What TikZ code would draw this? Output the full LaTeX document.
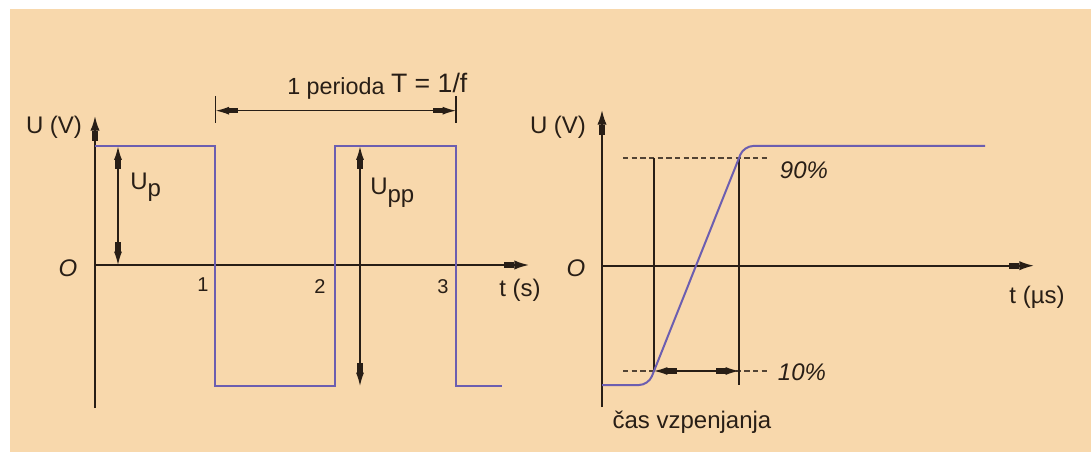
\documentclass[tikz,border=0pt]{standalone}
\usepackage{fontspec}
\setmainfont{Liberation Sans}
\usetikzlibrary{arrows.meta}
\definecolor{peach}{RGB}{248,216,172}
\definecolor{ink}{RGB}{40,30,22}
\definecolor{wave}{RGB}{108,94,176}
\begin{document}
\begin{tikzpicture}[x=0.75pt,y=-0.75pt,
  axisline/.style={ink, line width=1.4pt, -{Rectangle[length=8pt,width=4.5pt]Latex[length=11pt,width=7pt]}},
  thinline/.style={ink, line width=1pt},
  dimline/.style={ink, line width=1pt, {Latex[length=10pt,width=6pt]Rectangle[length=7pt,width=4pt]}-{Rectangle[length=7pt,width=4pt]Latex[length=10pt,width=6pt]}},
  dashline/.style={ink!80!peach, line width=1pt, dash pattern=on 4pt off 2.5pt},
  wavestyle/.style={wave, line width=1.5pt, line join=miter},
  lbl/.style={text=ink, inner sep=0pt, font=\fontsize{18}{20}\selectfont},
  num/.style={text=ink, inner sep=0pt, font=\fontsize{15}{17}\selectfont},
  ital/.style={text=ink, inner sep=0pt, font=\fontsize{18}{20}\selectfont\itshape}]
\useasboundingbox (0,0) rectangle (1091,452);
\fill[white] (0,0) rectangle (1091,452);
\fill[peach] (10,9) rectangle (1091,452);

% ---------- left diagram ----------
\coordinate (LyBot) at (95,408);
\coordinate (LyTop) at (95,116);
\coordinate (LxBeg) at (95,265);
\coordinate (LxEnd) at (529,265);
\draw[axisline] (LyBot) -- (LyTop);
\draw[axisline] (LxBeg) -- (LxEnd);

\draw[wavestyle] (95,146) -- (215,146) -- (215,386) -- (335,386) -- (335,146) -- (456,146) -- (456,386) -- (502,386);

\coordinate (UpTop) at (118,146.5);
\coordinate (UpBot) at (118,265);
\draw[dimline] (UpTop) -- (UpBot);
\coordinate (UppTop) at (360,146.5);
\coordinate (UppBot) at (360,386);
\draw[dimline] (UppTop) -- (UppBot);

\coordinate (TickLa) at (215.7,96);
\coordinate (TickLb) at (215.7,123);
\coordinate (TickRa) at (456,96);
\coordinate (TickRb) at (456,123);
\draw[thinline] (TickLa) -- (TickLb);
\draw[thinline] (TickRa) -- (TickRb);
\coordinate (PerL) at (215.7,110.7);
\coordinate (PerR) at (456,110.7);
\draw[dimline] (PerL) -- (PerR);

\node[lbl, anchor=base west] (perlabel) at (287,95) {\fontsize{17.5}{20}\selectfont 1 perioda \raisebox{1.5pt}{\fontsize{20}{22}\selectfont T = 1/f}};
\node[lbl] (UVl) at (54,127) {U (V)};
\node[ital] (Ol) at (68,268) {O};
\node[num] (n1) at (203,285) {1};
\node[num] (n2) at (320,287) {2};
\node[num] (n3) at (443,287) {3};
\node[lbl] (ts) at (520,290) {t (s)};
\node[lbl, anchor=base west] (Up) at (130,190) {U\raisebox{-5pt}{p}};
\node[lbl, anchor=base west] (Upp) at (370,195) {U\raisebox{-6pt}{pp}};

% ---------- right diagram ----------
\coordinate (RyBot) at (602,407);
\coordinate (RyTop) at (602,110);
\coordinate (RxBeg) at (602,265.7);
\coordinate (RxEnd) at (1034,265.7);
\draw[axisline] (RyBot) -- (RyTop);
\draw[axisline] (RxBeg) -- (RxEnd);

\coordinate (D90a) at (623,158);
\coordinate (D90b) at (768,158);
\coordinate (D10a) at (623,371);
\coordinate (D10b) at (768,371);
\draw[dashline] (D90a) -- (D90b);
\draw[dashline] (D10a) -- (D10b);

\coordinate (V1a) at (654,158);
\coordinate (V1b) at (654,371);
\coordinate (V2a) at (739,158);
\coordinate (V2b) at (739,385);
\draw[thinline] (V1a) -- (V1b);
\draw[thinline] (V2a) -- (V2b);

\draw[wavestyle, rounded corners=7pt] (602,385) -- (648.4,385) -- (743.8,146) -- (985,146);

\coordinate (RiseL) at (654,371);
\coordinate (RiseR) at (739,371);
\draw[dimline] (RiseL) -- (RiseR);

\node[lbl] (UVr) at (558,127) {U (V)};
\node[ital] (Or) at (576,268) {O};
\node[lbl] (tus) at (1037,297) {t (µs)};
\node[ital] (p90) at (804,170) {90\%};
\node[ital] (p10) at (802,372) {10\%};
\node[lbl] (cas) at (692,422) {čas vzpenjanja};
\end{tikzpicture}
\end{document}
